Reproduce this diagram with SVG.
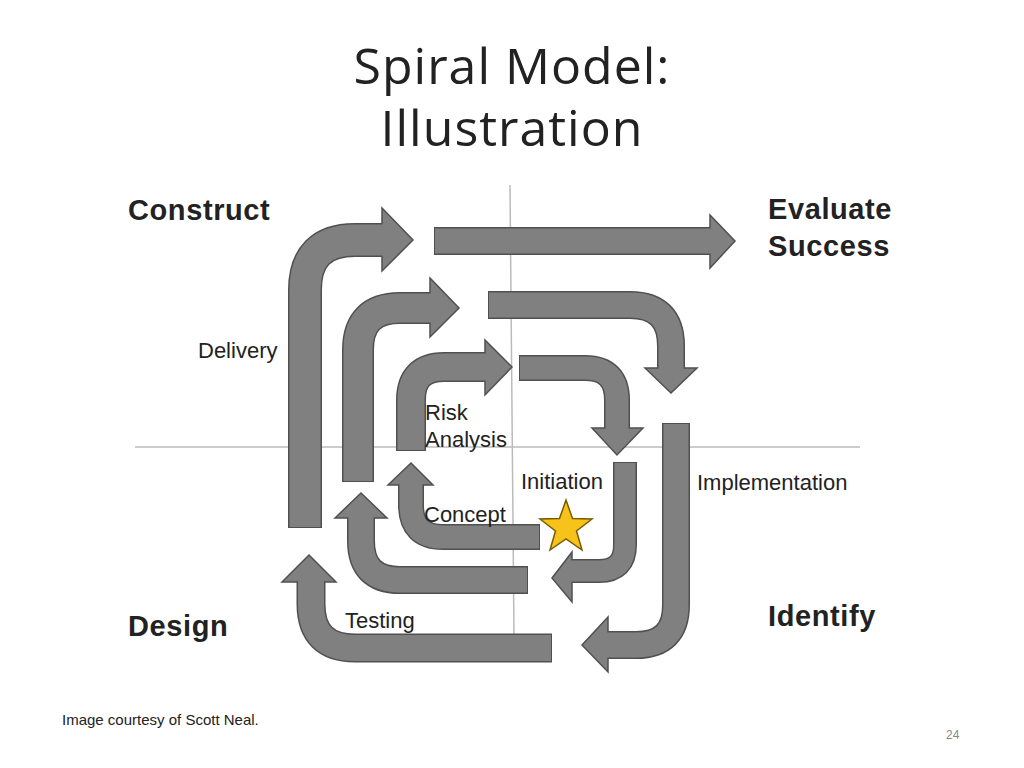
<svg xmlns="http://www.w3.org/2000/svg" width="1024" height="768" viewBox="0 0 1024 768">
<style>
.o{fill:none;stroke:#505050;stroke-linejoin:round}
.f{fill:none;stroke:#808080}
.h{fill:#808080;stroke:#505050;stroke-width:1.5;stroke-linejoin:miter}
.t{font-family:"Liberation Sans",Arial,sans-serif;fill:#222}
.b{font-family:"Liberation Sans",Arial,sans-serif;font-weight:bold;font-size:29px;letter-spacing:0.6px;fill:#222}
.l{font-family:"Liberation Sans",Arial,sans-serif;font-size:22px;fill:#222}
</style>
<rect width="1024" height="768" fill="#fff"/>
<text class="t" x="512" y="84" font-size="50" text-anchor="middle" style="font-family:'Open Sans','Liberation Sans',sans-serif;letter-spacing:1px">Spiral Model:</text>
<text class="t" x="512" y="146" font-size="50" text-anchor="middle" style="font-family:'Open Sans','Liberation Sans',sans-serif;letter-spacing:1px">Illustration</text>
<g id="axes" stroke="#bbbbbb" stroke-width="1.5">
<line x1="510" y1="185" x2="514" y2="636"/>
<line x1="135" y1="447" x2="860" y2="447"/>
</g>
<g id="connectors">
<g id="a1"><path class="o" stroke-width="34" d="M305,528 V290 Q305,240 355,240 H383"/><polygon class="h" points="382,208 413,240 382,271"/><path class="f" stroke-width="31" d="M305,527 V290 Q305,240 355,240 H383"/></g>
<g id="a2"><path class="o" stroke-width="28" d="M434,241 H711"/><polygon class="h" points="710,215 735,241 710,268"/><path class="f" stroke-width="25" d="M435,241 H711"/></g>
<g id="a3"><path class="o" stroke-width="32" d="M358,482 V350 Q358,308 400,308 H431"/><polygon class="h" points="430,278 459,308 430,337"/><path class="f" stroke-width="29" d="M358,481 V350 Q358,308 400,308 H431"/></g>
<g id="a4"><path class="o" stroke-width="28" d="M488,305 H630 Q671,305 671,346 V369"/><polygon class="h" points="645,368 671,393 697,368"/><path class="f" stroke-width="25" d="M489,305 H630 Q671,305 671,346 V369"/></g>
<g id="a5"><path class="o" stroke-width="30" d="M411,451 V400 Q411,367 444,367 H486"/><polygon class="h" points="485,340 512,367 485,395"/><path class="f" stroke-width="27" d="M411,450 V400 Q411,367 444,367 H486"/></g>
<g id="a6"><path class="o" stroke-width="26" d="M519,368 H585 Q617,368 617,400 V429"/><polygon class="h" points="592,428 617,455 643,428"/><path class="f" stroke-width="23" d="M520,368 H585 Q617,368 617,400 V429"/></g>
<g id="a7"><path class="o" stroke-width="24" d="M625,462 V545 Q625,571 599,571 H571"/><polygon class="h" points="572,552 552,578 572,602"/><path class="f" stroke-width="21" d="M625,463 V545 Q625,571 599,571 H571"/></g>
<g id="a8"><path class="o" stroke-width="26" d="M540,537 H443 Q411,537 411,505 V484"/><polygon class="h" points="388,485 411,463 433,485"/><path class="f" stroke-width="23" d="M539,537 H443 Q411,537 411,505 V484"/></g>
<g id="a9"><path class="o" stroke-width="28" d="M528,580 H400 Q361,580 361,541 V517"/><polygon class="h" points="335,518 361,493 387,518"/><path class="f" stroke-width="25" d="M527,580 H400 Q361,580 361,541 V517"/></g>
<g id="a10"><path class="o" stroke-width="29" d="M552,648 H355 Q311,648 311,604 V581"/><polygon class="h" points="282,582 309,555 336,582"/><path class="f" stroke-width="26" d="M551,648 H355 Q311,648 311,604 V581"/></g>
<g id="a11"><path class="o" stroke-width="28" d="M676,423 V605 Q676,645 636,645 H607"/><polygon class="h" points="608,617 582,645 608,672"/><path class="f" stroke-width="25" d="M676,424 V605 Q676,645 636,645 H607"/></g>
</g>
<g id="star"><polygon fill="#f7c31a" stroke="#7a5c00" stroke-width="1.5" points="566,500 572.5,518.5 592,519 576.5,531 582,550 566,539 550,550 555.5,531 540,519 559.5,518.5"/></g>
<g id="labels">
<text class="b" x="128" y="220">Construct</text>
<text class="b" x="768" y="219">Evaluate</text>
<text class="b" x="768" y="256">Success</text>
<text class="b" x="128" y="636">Design</text>
<text class="b" x="768" y="626">Identify</text>
<text class="l" x="198" y="358">Delivery</text>
<text class="l" x="697" y="490">Implementation</text>
<text class="l" x="425" y="420">Risk</text>
<text class="l" x="425" y="447">Analysis</text>
<text class="l" x="521" y="489" font-size="21">Initiation</text>
<text class="l" x="424" y="522">Concept</text>
<text class="l" x="345" y="628">Testing</text>
</g>
<text class="t" x="62" y="725" font-size="15">Image courtesy of Scott Neal.</text>
<text class="t" x="946" y="739" font-size="12" style="fill:#888">24</text>
</svg>
